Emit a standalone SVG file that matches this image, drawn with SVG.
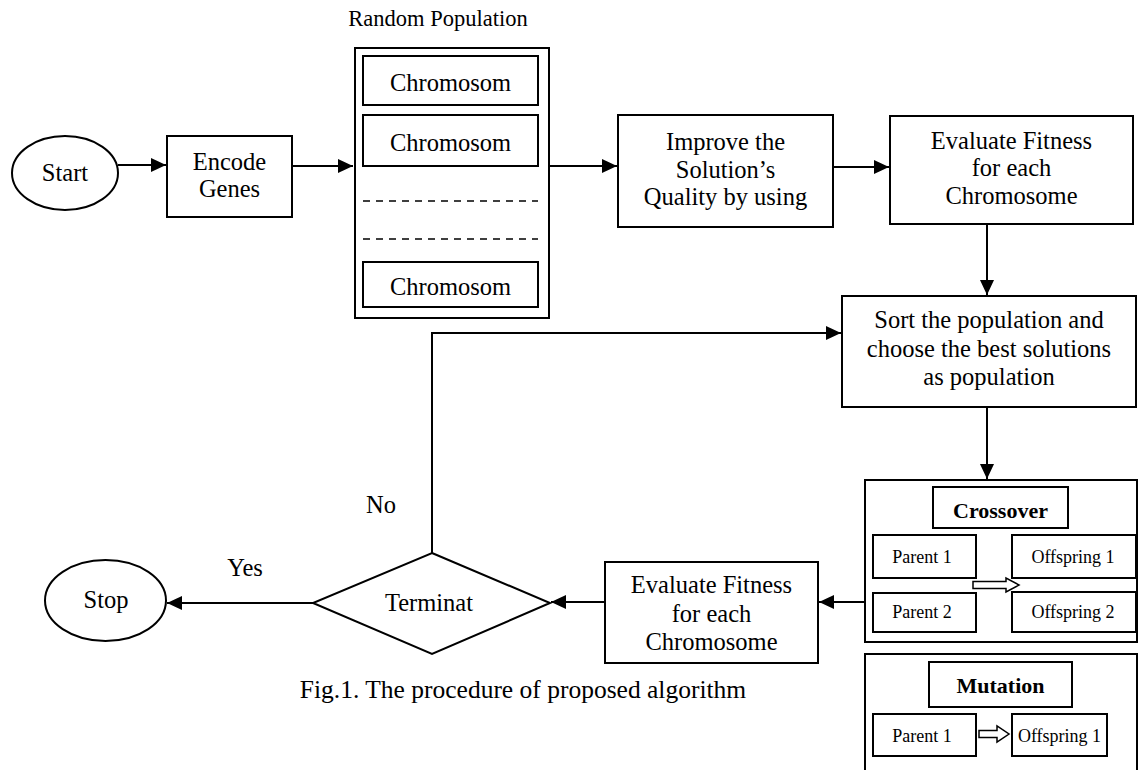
<svg xmlns="http://www.w3.org/2000/svg" width="1139" height="770" viewBox="0 0 1139 770">
<style>
.b{fill:#fff;stroke:#000;stroke-width:2}
.t{font-family:"Liberation Serif","Times New Roman",serif;font-size:24.5px;fill:#000;text-anchor:middle}
.s{font-family:"Liberation Serif","Times New Roman",serif;font-size:18px;fill:#000;text-anchor:middle}
.bd{font-weight:bold;font-size:22px}
.c{fill:none;stroke:#000;stroke-width:2}
.ha{fill:#fff;stroke:#000;stroke-width:1.5}
</style>
<defs>
<marker id="ar" markerUnits="userSpaceOnUse" markerWidth="16" markerHeight="14" refX="15" refY="7" orient="auto">
<path d="M0,0 L15,7 L0,14 Z" fill="#000"/>
</marker>
</defs>
<rect width="1139" height="770" fill="#fff"/>
<g id="connectors">
<path class="c" d="M118,165 H166" marker-end="url(#ar)"/>
<path class="c" d="M292,166 H353" marker-end="url(#ar)"/>
<path class="c" d="M549,166 H617" marker-end="url(#ar)"/>
<path class="c" d="M833,167 H889" marker-end="url(#ar)"/>
<path class="c" d="M987,224 V295" marker-end="url(#ar)"/>
<path class="c" d="M987,407 V479" marker-end="url(#ar)"/>
<path class="c" d="M865,602 H819" marker-end="url(#ar)"/>
<path class="c" d="M605,602 H551" marker-end="url(#ar)"/>
<path class="c" d="M313,603 H167" marker-end="url(#ar)"/>
<path class="c" d="M432,553 V333 H841" marker-end="url(#ar)"/>
<text class="t" x="381" y="513">No</text>
<text class="t" x="245" y="576">Yes</text>
</g>
<g id="start">
<ellipse class="b" cx="65" cy="173" rx="53" ry="37"/>
<text class="t" x="65" y="181">Start</text>
</g>
<g id="encode">
<rect class="b" x="167" y="136" width="125" height="81"/>
<text class="t" x="229.5" y="170">Encode</text>
<text class="t" x="229.5" y="197">Genes</text>
</g>
<g id="population">
<text class="t" x="438" y="26" style="font-size:22.5px">Random Population</text>
<rect class="b" x="355" y="48" width="194" height="270"/>
<rect class="b" x="363" y="56" width="175" height="49"/>
<text class="t" x="450.5" y="91">Chromosom</text>
<rect class="b" x="363" y="115" width="175" height="51"/>
<text class="t" x="450.5" y="151">Chromosom</text>
<line x1="363" y1="201" x2="538" y2="201" stroke="#000" stroke-width="1.5" stroke-dasharray="7,6"/>
<line x1="363" y1="239" x2="538" y2="239" stroke="#000" stroke-width="1.5" stroke-dasharray="7,6"/>
<rect class="b" x="363" y="262" width="175" height="45"/>
<text class="t" x="450.5" y="295">Chromosom</text>
</g>
<g id="improve">
<rect class="b" x="618" y="115" width="215" height="112"/>
<text class="t" x="725.5" y="150">Improve the</text>
<text class="t" x="725.5" y="178">Solution’s</text>
<text class="t" x="725.5" y="205">Quality by using</text>
</g>
<g id="evaluate1">
<rect class="b" x="890" y="116" width="243" height="108"/>
<text class="t" x="1011.5" y="149">Evaluate Fitness</text>
<text class="t" x="1011.5" y="176">for each</text>
<text class="t" x="1011.5" y="204">Chromosome</text>
</g>
<g id="sort">
<rect class="b" x="842" y="296" width="294" height="111"/>
<text class="t" x="989" y="328">Sort the population and</text>
<text class="t" x="989" y="357">choose the best solutions</text>
<text class="t" x="989" y="385">as population</text>
</g>
<g id="crossover">
<rect class="b" x="865" y="480" width="272" height="162"/>
<rect class="b" x="933" y="487" width="135" height="41"/>
<text class="t bd" x="1000.5" y="518">Crossover</text>
<rect class="b" x="873" y="535" width="103" height="43"/>
<text class="s" x="922" y="563">Parent 1</text>
<rect class="b" x="873" y="593" width="103" height="39"/>
<text class="s" x="922" y="618">Parent 2</text>
<rect class="b" x="1012" y="535" width="124" height="43"/>
<text class="s" x="1073" y="563">Offspring 1</text>
<rect class="b" x="1012" y="592" width="124" height="40"/>
<text class="s" x="1073" y="618">Offspring 2</text>
<path class="ha" d="M973,581.5 H1006 V578 L1019,585 L1006,592 V588.5 H973 Z"/>
</g>
<g id="mutation">
<rect class="b" x="865" y="654" width="272" height="130"/>
<rect class="b" x="929" y="662" width="143" height="45"/>
<text class="t bd" x="1000.5" y="693">Mutation</text>
<rect class="b" x="873" y="714" width="103" height="42"/>
<text class="s" x="922" y="742">Parent 1</text>
<rect class="b" x="1012" y="714" width="95" height="42"/>
<text class="s" x="1059.5" y="742">Offspring 1</text>
<path class="ha" d="M979,730.5 H997 V726 L1009,734 L997,742 V737.5 H979 Z"/>
</g>
<g id="evaluate2">
<rect class="b" x="605" y="562" width="213" height="101"/>
<text class="t" x="711.5" y="593">Evaluate Fitness</text>
<text class="t" x="711.5" y="622">for each</text>
<text class="t" x="711.5" y="650">Chromosome</text>
</g>
<g id="terminate">
<polygon class="b" points="432,553 550,603 432,654 313,603"/>
<text class="t" x="429" y="611">Terminat</text>
</g>
<g id="stop">
<ellipse class="b" cx="105.5" cy="600.5" rx="60.5" ry="40.5"/>
<text class="t" x="106" y="608">Stop</text>
</g>
<text class="t" x="523" y="698" style="font-size:25.5px">Fig.1. The procedure of proposed algorithm</text>
</svg>
